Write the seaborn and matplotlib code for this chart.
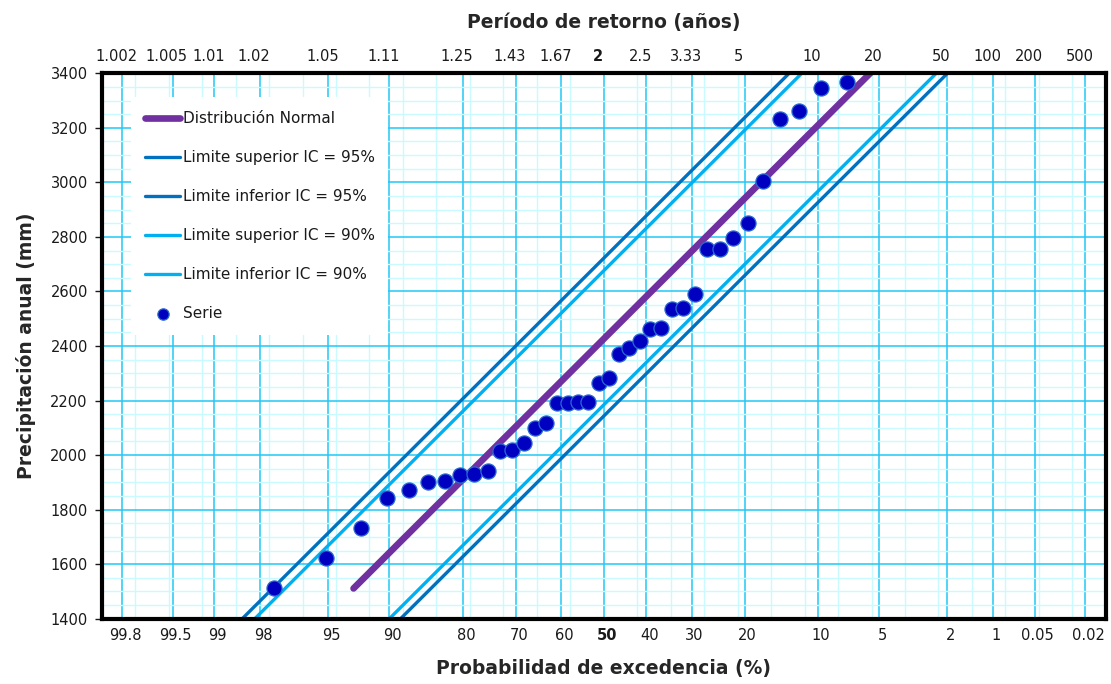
import math
from statistics import NormalDist
import numpy as np
import pandas as pd
import matplotlib
matplotlib.use("Agg")
import matplotlib.pyplot as plt
import matplotlib.transforms as mtransforms
from matplotlib.ticker import FixedLocator, MultipleLocator, NullLocator
import seaborn as sns

# ---------------- data ----------------
serie_mm = [1511, 1622, 1734, 1842, 1873, 1903, 1906, 1928, 1932, 1940,
            2016, 2020, 2044, 2101, 2119, 2190, 2190, 2193, 2196, 2263,
            2282, 2370, 2391, 2418, 2462, 2467, 2535, 2539, 2589, 2754,
            2755, 2795, 2852, 3005, 3232, 3263, 3345, 3367]
n_total = 40                      # two largest values lie above 3400 mm
rangos = list(range(40, 2, -1))   # rank (1 = largest) of the visible points
prob_serie = [100.0 * r / (n_total + 1) for r in rangos]

media = 2426.0
desv = 612.0
semi_sup95 = 296.0
semi_inf95 = 283.0
semi_sup90 = 250.0
semi_inf90 = 242.0

ticks_prob = [99.8, 99.5, 99, 98, 95, 90, 80, 70, 60, 50, 40, 30, 20, 10, 5, 2, 1, 0.5, 0.2]
etiq_inf = ["99.8", "99.5", "99", "98", "95", "90", "80", "70", "60", "50",
            "40", "30", "20", "10", "5", "2", "1", "0.05", "0.02"]
etiq_sup = ["1.002", "1.005", "1.01", "1.02", "1.05", "1.11", "1.25", "1.43", "1.67", "2",
            "2.5", "3.33", "5", "10", "20", "50", "100", "200", "500"]
y_ticks = list(range(1400, 3401, 200))

# ---------------- normal probability scale ----------------
_nd = NormalDist()
_ppf = np.vectorize(_nd.inv_cdf, otypes=[float])
_cdf = np.vectorize(_nd.cdf, otypes=[float])

def fwd(p):
    p = np.clip(np.asarray(p, dtype=float), 1e-9, 100 - 1e-9)
    return _ppf(p / 100.0)

def inv(z):
    return 100.0 * _cdf(np.asarray(z, dtype=float))

def prob_exc(v, shift=0.0):
    v = np.asarray(v, dtype=float)
    return 100.0 * (1.0 - _cdf((v - shift - media) / desv))

# model lines
v_norm = np.linspace(min(serie_mm), 3600, 60)
v_ci = np.linspace(1000, 3800, 60)
df_norm = pd.DataFrame({"p": prob_exc(v_norm), "v": v_norm})
df_s95 = pd.DataFrame({"p": prob_exc(v_ci, semi_sup95), "v": v_ci})
df_i95 = pd.DataFrame({"p": prob_exc(v_ci, -semi_inf95), "v": v_ci})
df_s90 = pd.DataFrame({"p": prob_exc(v_ci, semi_sup90), "v": v_ci})
df_i90 = pd.DataFrame({"p": prob_exc(v_ci, -semi_inf90), "v": v_ci})
df_serie = pd.DataFrame({"p": prob_serie, "v": serie_mm})

# ---------------- figure ----------------
sns.set_style("white")
plt.rcParams["font.family"] = ["DejaVu Sans"]

W, H = 1111, 684
fig = plt.figure(figsize=(W / 100, H / 100), dpi=100)
L, R, T, B = 101.7, 1105.8, 73.3, 618.7
ax = fig.add_axes([L / W, 1 - B / H, (R - L) / W, (B - T) / H])

c_purple = "#7030A0"
c_dark = "#0070C0"
c_light = "#00B0F0"

sns.lineplot(data=df_s95, x="p", y="v", ax=ax, color=c_dark, lw=2.4, sort=False,
             estimator=None, label="Limite superior IC = 95%", zorder=3)
sns.lineplot(data=df_i95, x="p", y="v", ax=ax, color=c_dark, lw=2.4, sort=False,
             estimator=None, label="Limite inferior IC = 95%", zorder=3)
sns.lineplot(data=df_s90, x="p", y="v", ax=ax, color=c_light, lw=2.4, sort=False,
             estimator=None, label="Limite superior IC = 90%", zorder=3)
sns.lineplot(data=df_i90, x="p", y="v", ax=ax, color=c_light, lw=2.4, sort=False,
             estimator=None, label="Limite inferior IC = 90%", zorder=3)
sns.lineplot(data=df_norm, x="p", y="v", ax=ax, color=c_purple, lw=4.8, sort=False,
             estimator=None, label="Distribución Normal", zorder=4,
             solid_capstyle="round")
sns.scatterplot(data=df_serie, x="p", y="v", ax=ax, s=118, color="#0000C0",
                edgecolor="#2A6AD0", linewidth=0.9, label="Serie", zorder=5)

ax.set_xscale("function", functions=(fwd, inv))
xlim = (float(inv(3.0)), float(inv(-3.0)))
ax.set_xlim(xlim)
ax.set_ylim(1400, 3400)

# grid
minor_z = np.round(np.arange(-3.0, 3.001, 0.2), 2)
ax.xaxis.set_major_locator(FixedLocator(ticks_prob))
ax.xaxis.set_minor_locator(FixedLocator(list(inv(minor_z))))
ax.set_xticklabels(etiq_inf)
ax.set_yticks(y_ticks)
ax.yaxis.set_minor_locator(MultipleLocator(50))
ax.set_axisbelow(True)
ax.grid(which="minor", color="#C8FAFF", lw=1.0)
ax.grid(which="major", color="#20C8F4", lw=1.1)

ax.tick_params(axis="x", which="both", length=0, pad=7, labelsize=10.5, colors="#1a1a1a")
ax.tick_params(axis="y", which="major", length=5, width=1.0, direction="out",
               left=True, pad=5, labelsize=10.5, colors="#1a1a1a")
ax.tick_params(axis="y", which="minor", length=0)
for sp in ax.spines.values():
    sp.set_linewidth(3.0)
    sp.set_color("black")
    sp.set_zorder(10)

ax.set_xlabel("Probabilidad de excedencia (%)", fontsize=13.5, fontweight="bold", labelpad=11)
ax.set_ylabel("Precipitación anual (mm)", fontsize=13.5, fontweight="bold", labelpad=10)

# top axis: return period
ax2 = ax.twiny()
ax2.set_xscale("function", functions=(fwd, inv))
ax2.set_xlim(xlim)
ax2.xaxis.set_major_locator(FixedLocator(ticks_prob))
ax2.xaxis.set_minor_locator(NullLocator())
ax2.set_xticklabels(etiq_sup)
ax2.tick_params(axis="x", length=0, pad=7, labelsize=10.5, colors="#1a1a1a")
for sp in ax2.spines.values():
    sp.set_visible(False)
ax2.grid(False)
ax2.set_xlabel("Período de retorno (años)", fontsize=13.5, fontweight="bold", labelpad=15)

off_top = mtransforms.ScaledTranslation(-6 / 100, 0, fig.dpi_scale_trans)
off_bot = mtransforms.ScaledTranslation(3 / 100, 0, fig.dpi_scale_trans)
for lbl in ax2.get_xticklabels():
    lbl.set_transform(lbl.get_transform() + off_top)
    if lbl.get_text() == "2":
        lbl.set_fontweight("bold")
for lbl in ax.get_xticklabels():
    lbl.set_transform(lbl.get_transform() + off_bot)
    if lbl.get_text() == "50":
        lbl.set_fontweight("bold")

# legend
h, l = ax.get_legend_handles_labels()
order = ["Distribución Normal", "Limite superior IC = 95%", "Limite inferior IC = 95%",
         "Limite superior IC = 90%", "Limite inferior IC = 90%", "Serie"]
hd = dict(zip(l, h))
leg = ax.legend([hd[k] for k in order], order, loc="upper left",
                bbox_to_anchor=(0.022, 0.97), fontsize=11, frameon=True,
                facecolor="white", edgecolor="none", framealpha=1.0, fancybox=False,
                handlelength=2.3, handletextpad=0.15, labelspacing=1.57,
                borderpad=0.9, markerscale=0.75)
leg.set_zorder(8)
for t in leg.get_texts():
    t.set_color("#1a1a1a")

fig.savefig("out.png", dpi=100)
